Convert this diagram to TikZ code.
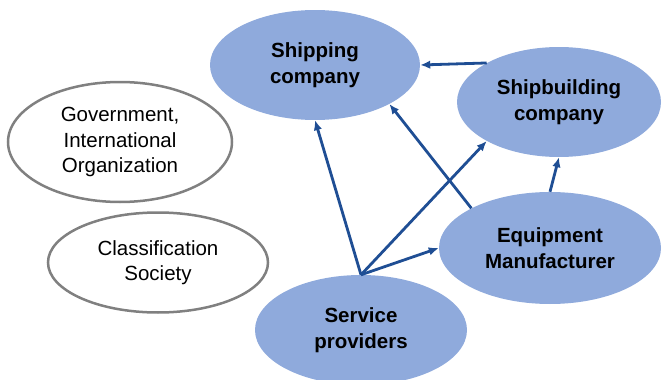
\documentclass[tikz,border=0pt]{standalone}
\usepackage{fontspec}
\setmainfont{Liberation Sans}
\usetikzlibrary{arrows.meta, positioning, shapes.geometric}

\definecolor{partblue}{HTML}{8FAADC}
\definecolor{linkblue}{HTML}{1F4E94}
\definecolor{rimgray}{HTML}{808080}
\newcommand{\diagfont}{\fontsize{20.5}{25.5}\selectfont}

\begin{document}
\begin{tikzpicture}[x=1pt, y=-1pt,
  actor/.style={ellipse, fill=partblue, inner sep=0pt, align=center, font=\diagfont\bfseries},
  outsider/.style={ellipse, draw=rimgray, line width=2.5pt, fill=white, inner sep=0pt, align=center, font=\diagfont},
  link/.style={-{Latex[length=10pt, width=8.5pt]}, draw=linkblue, line width=2.8pt}]
\useasboundingbox (0,0) rectangle (662,380);

% industry actors
\node (ship) [actor, minimum width=210pt, minimum height=110pt] at (315,65) {Shipping\\company};
\node (yard) [actor, minimum width=204pt, minimum height=110pt] at (559,102) {Shipbuilding\\company};
\node (equip) [actor, minimum width=222pt, minimum height=112pt] at (550,248) {Equipment\\Manufacturer};
\node (serv) [actor, minimum width=212pt, minimum height=110pt] at (361,330) {Service\\providers};

% outside bodies
\node (gov) [outsider, minimum width=224pt, minimum height=120pt] at (120,142) {Government,\\International\\Organization};
\node (class) [outsider, below=8pt of gov, xshift=38pt, minimum width=220pt, minimum height=100pt] {Classification\\Society};

\draw[link] (yard.north west) -- (ship.east);
\draw[link] (serv.north) -- (ship.south);
\draw[link] (serv.north) -- (yard.south west);
\draw[link] (serv.north) -- (equip.west);
\draw[link] (equip.north west) -- (ship.south east);
\draw[link] (equip.north) -- (yard.south);
\end{tikzpicture}
\end{document}
